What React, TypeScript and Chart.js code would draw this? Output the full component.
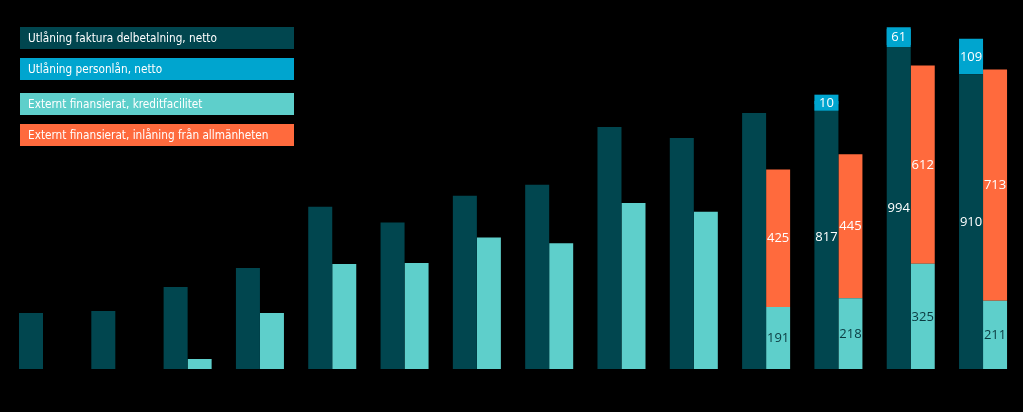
import React, { useEffect, useRef } from "react";
import { Chart, registerables } from "chart.js";

Chart.register(...registerables);

const categories = ["1", "2", "3", "4", "5", "6", "7", "8", "9", "10", "11", "12", "13", "14"];

const fakturaValues = [173, 179, 253, 312, 501, 452, 535, 569, 747, 713, 790, 817, 994, 910];
const personlanValues = [null, null, null, null, null, null, null, null, null, null, null, 10, 61, 109];
const kreditValues = [null, null, 31, 173, 324, 327, 406, 388, 512, 485, 191, 218, 325, 211];
const inlaningValues = [null, null, null, null, null, null, null, null, null, null, 425, 445, 612, 713];

const seriesNames = [
  "Utlåning faktura delbetalning, netto",
  "Utlåning personlån, netto",
  "Externt finansierat, kreditfacilitet",
  "Externt finansierat, inlåning från allmänheten",
];

// index of first category whose value is printed on the bar
const labelFrom = [11, 11, 10, 10];

const COLORS = ["#01464F", "#00A5CF", "#5ECFCB", "#FF6A3D"];
const LABEL_COLORS = ["#FFFFFF", "#FFFFFF", "#0B3A40", "#FFFFFF"];

const valueLabelPlugin = {
  id: "valueLabels",
  afterDatasetsDraw(chart: any) {
    const ctx = chart.ctx;
    ctx.save();
    ctx.font = "13px 'Open Sans', sans-serif";
    ctx.textAlign = "center";
    ctx.textBaseline = "middle";
    chart.data.datasets.forEach((ds: any, i: number) => {
      const meta = chart.getDatasetMeta(i);
      meta.data.forEach((el: any, j: number) => {
        const v = ds.data[j];
        if (v == null || j < labelFrom[i]) return;
        const cy = (el.y + el.base) / 2;
        if (i === 1) {
          ctx.fillStyle = COLORS[1];
          ctx.fillRect(el.x - el.width / 2, cy - 8, el.width, 16);
        }
        ctx.fillStyle = LABEL_COLORS[i];
        ctx.fillText(String(v), el.x, cy + 0.5);
      });
    });
    ctx.restore();
  },
};

const boxLegendPlugin = {
  id: "boxLegend",
  afterDraw(chart: any) {
    const ctx = chart.ctx;
    const tops = [27, 58, 93, 124];
    ctx.save();
    ctx.font = "13px 'DejaVu Sans Condensed', 'Noto Sans', sans-serif";
    ctx.textAlign = "left";
    ctx.textBaseline = "middle";
    chart.data.datasets.forEach((ds: any, i: number) => {
      ctx.fillStyle = ds.backgroundColor;
      ctx.fillRect(20, tops[i], 274, 22);
      ctx.fillStyle = "#FFFFFF";
      ctx.save();
      ctx.translate(28, tops[i] + 11.5);
      ctx.scale(0.9, 1);
      ctx.fillText(ds.label, 0, 0);
      ctx.restore();
    });
    ctx.restore();
  },
};

export default function App() {
  const ref = useRef<HTMLCanvasElement | null>(null);

  useEffect(() => {
    if (!ref.current) return;
    const chart = new Chart(ref.current, {
      type: "bar",
      data: {
        labels: categories,
        datasets: [
          { label: seriesNames[0], data: fakturaValues, backgroundColor: COLORS[0], stack: "utlaning" },
          { label: seriesNames[1], data: personlanValues, backgroundColor: COLORS[1], stack: "utlaning" },
          { label: seriesNames[2], data: kreditValues, backgroundColor: COLORS[2], stack: "finans" },
          { label: seriesNames[3], data: inlaningValues, backgroundColor: COLORS[3], stack: "finans" },
        ],
      },
      options: {
        animation: false,
        responsive: true,
        maintainAspectRatio: false,
        layout: { padding: { left: 6.85, right: 3.8, top: 12.6, bottom: 43 } },
        datasets: { bar: { categoryPercentage: 0.664, barPercentage: 1, borderWidth: 0 } },
        plugins: { legend: { display: false }, tooltip: { enabled: false } },
        scales: {
          x: { display: false, stacked: true },
          y: { display: false, stacked: true, min: 0, max: 1100 },
        },
      },
      plugins: [valueLabelPlugin, boxLegendPlugin],
    });
    return () => chart.destroy();
  }, []);

  return (
    <div style={{ position: "fixed", left: 0, top: 0, width: 1023, height: 412, background: "#000" }}>
      <canvas ref={ref} />
    </div>
  );
}
